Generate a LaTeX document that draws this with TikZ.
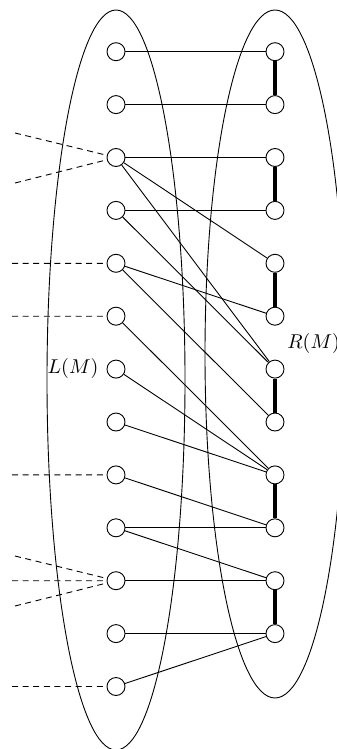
\documentclass[tikz,border=0pt]{standalone}
\begin{document}
\begin{tikzpicture}[x=0.5pt,y=-0.5pt,
  vtx/.style={circle,draw,fill=white,minimum size=9pt,inner sep=0pt,line width=0.45pt},
  edg/.style={line width=0.45pt},
  matched/.style={line width=1.6pt},
  dsh/.style={line width=0.45pt,dash pattern=on 3pt off 2.3pt},
  blob/.style={line width=0.45pt}]
\useasboundingbox (0,0) rectangle (337,749);
\clip (0,0) rectangle (337,749);
% sets
\draw[blob] (116,380) ellipse [x radius=34.5pt, y radius=185pt];
\draw[blob] (275,354) ellipse [x radius=35pt, y radius=172pt];
\node (LM) at (73,368) {$L(M)$};
\node[anchor=west,inner sep=0pt] (RM) at (287,343) {$R(M)$};
% vertices
\foreach \i in {1,...,13} {
  \node[vtx] (L\i) at (116,{51.7+52.9*(\i-1)}) {};
}
\foreach \i in {1,...,12} {
  \node[vtx] (R\i) at (275,{51.7+52.9*(\i-1)}) {};
}
% matching edges
\foreach \a/\b in {1/2,3/4,5/6,7/8,9/10,11/12} {
  \draw[matched] (R\a) -- (R\b);
}
% graph edges
\foreach \a/\b in {1/1,2/2,3/3,3/5,3/7,4/4,4/7,5/6,5/8,6/9,7/9,8/9,9/10,10/10,10/11,11/11,12/12,13/12} {
  \draw[edg] (L\a) -- (R\b);
}
% dangling dashed edges
\coordinate (d3a) at (15,133);
\coordinate (d3b) at (15,183);
\coordinate (d5) at (12,263.3);
\coordinate (d6) at (12,316.2);
\coordinate (d9) at (12,474.9);
\coordinate (d11a) at (15,556);
\coordinate (d11b) at (12,580.7);
\coordinate (d11c) at (15,606);
\coordinate (d13) at (12,686.5);
\draw[dsh] (d3a) -- (L3);
\draw[dsh] (d3b) -- (L3);
\draw[dsh] (d5) -- (L5);
\draw[dsh] (d6) -- (L6);
\draw[dsh] (d9) -- (L9);
\draw[dsh] (d11a) -- (L11);
\draw[dsh] (d11b) -- (L11);
\draw[dsh] (d11c) -- (L11);
\draw[dsh] (d13) -- (L13);
\end{tikzpicture}
\end{document}
